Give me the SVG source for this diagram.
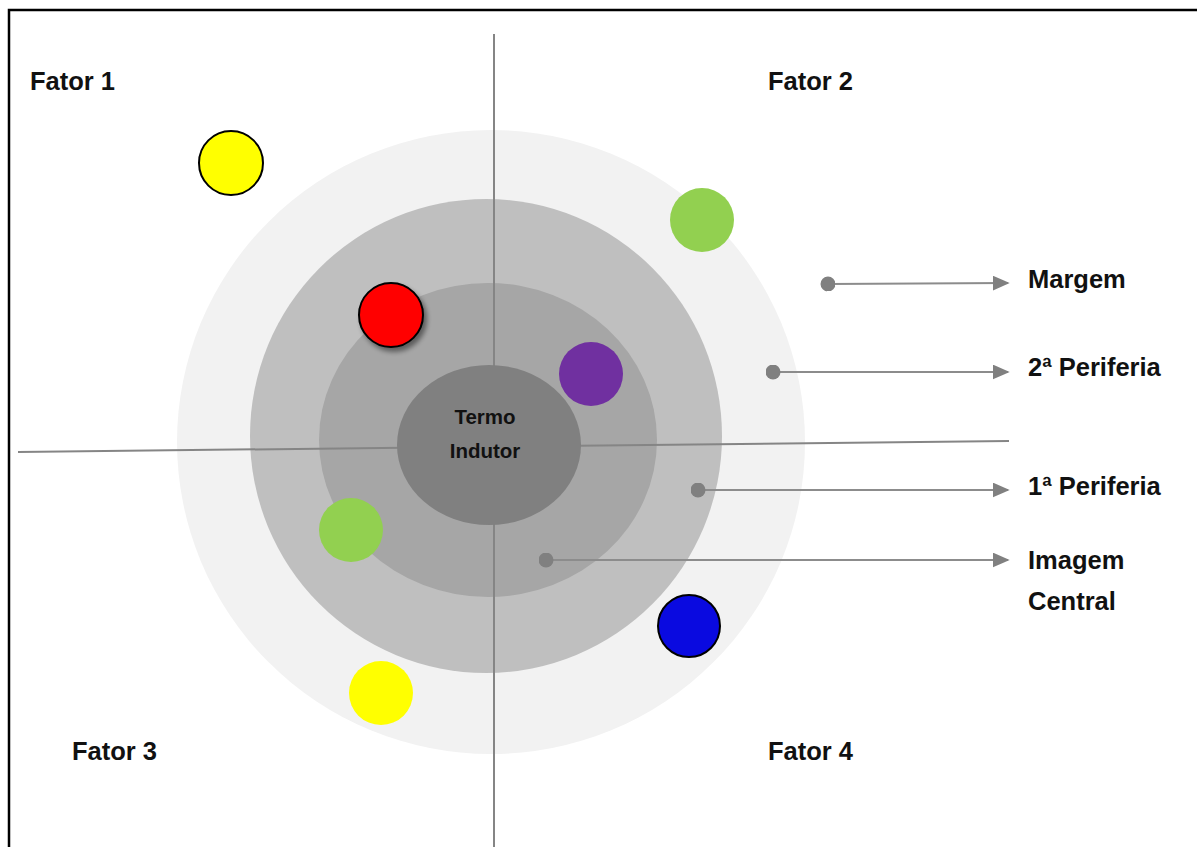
<svg xmlns="http://www.w3.org/2000/svg" width="1197" height="847" viewBox="0 0 1197 847">
  <defs>
    <style>
      .lbl { font-family: "Liberation Sans", Arial, sans-serif; font-weight: bold; font-size: 25.5px; fill: #111; }
      .core { font-family: "Liberation Sans", Arial, sans-serif; font-weight: bold; font-size: 20.5px; fill: #111; text-anchor: middle; }
      .axis { stroke: #858585; stroke-width: 2; fill: none; }
      .conn { stroke: #8c8c8c; stroke-width: 2; fill: none; marker-start: url(#dot); marker-end: url(#tri); }
      .ring { stroke: none; }
      .outlined { stroke: #000; stroke-width: 2; }
    </style>
    <marker id="tri" viewBox="0 0 10 10" refX="9" refY="5" markerWidth="17" markerHeight="15" markerUnits="userSpaceOnUse" orient="auto" preserveAspectRatio="none">
      <path d="M0,0 L10,5 L0,10 Z" fill="#808080"/>
    </marker>
    <marker id="dot" viewBox="0 0 10 10" refX="5" refY="5" markerWidth="15" markerHeight="15" markerUnits="userSpaceOnUse" orient="auto">
      <circle cx="5" cy="5" r="5" fill="#808080"/>
    </marker>
    <filter id="shadow" x="-30%" y="-30%" width="170%" height="170%">
      <feGaussianBlur in="SourceAlpha" stdDeviation="2.5"/>
      <feOffset dx="3" dy="4" result="b"/>
      <feComponentTransfer><feFuncA type="linear" slope="0.45"/></feComponentTransfer>
      <feMerge><feMergeNode/><feMergeNode in="SourceGraphic"/></feMerge>
    </filter>
  </defs>

  <rect width="1197" height="847" fill="#ffffff"/>
  <!-- frame (right and bottom edges run past the canvas) -->
  <rect x="9" y="10" width="1200" height="850" fill="none" stroke="#000" stroke-width="2.5"/>

  <!-- concentric zones -->
  <g id="margem">
    <ellipse class="ring" cx="491" cy="442" rx="314" ry="312" fill="#f2f2f2"/>
  </g>
  <g id="periferia2">
    <ellipse class="ring" cx="486" cy="436" rx="236" ry="237" fill="#bfbfbf"/>
  </g>
  <g id="periferia1">
    <ellipse class="ring" cx="488" cy="440" rx="169" ry="157" fill="#a6a6a6"/>
  </g>

  <!-- quadrant axes -->
  <g id="axes">
    <line class="axis" x1="494" y1="34" x2="494" y2="847"/>
    <line class="axis" x1="18" y1="452" x2="1009" y2="441"/>
  </g>

  <g id="termo-indutor">
    <ellipse cx="489" cy="445" rx="92" ry="80" fill="#808080"/>
    <text class="core" x="485" y="424">Termo</text>
    <text class="core" x="485" y="458">Indutor</text>
  </g>

  <!-- elements -->
  <g id="el-yellow-1"><circle class="outlined" cx="231" cy="163" r="32" fill="#ffff00"/></g>
  <g id="el-red"><circle class="outlined" cx="391" cy="315" r="32" fill="#ff0000" filter="url(#shadow)"/></g>
  <g id="el-green-1"><circle cx="702" cy="220" r="32" fill="#92d050"/></g>
  <g id="el-purple"><circle cx="591" cy="374" r="32" fill="#7030a0"/></g>
  <g id="el-green-2"><circle cx="351" cy="530" r="32" fill="#92d050"/></g>
  <g id="el-yellow-2"><circle cx="381" cy="693" r="32" fill="#ffff00"/></g>
  <g id="el-blue"><circle class="outlined" cx="689" cy="626" r="31" fill="#0a0ae0"/></g>

  <!-- zone pointers -->
  <g id="connectors">
    <line class="conn" x1="828" y1="284" x2="1008" y2="283"/>
    <line class="conn" x1="773" y1="372" x2="1008" y2="372"/>
    <line class="conn" x1="698" y1="490" x2="1008" y2="490"/>
    <line class="conn" x1="546" y1="560" x2="1008" y2="560"/>
  </g>

  <g id="legend">
    <text class="lbl" x="1028" y="288">Margem</text>
    <text class="lbl" x="1028" y="376">2ª Periferia</text>
    <text class="lbl" x="1028" y="495">1ª Periferia</text>
    <text class="lbl" x="1028" y="569">Imagem</text>
    <text class="lbl" x="1028" y="610">Central</text>
  </g>

  <g id="fatores">
    <text class="lbl" x="30" y="90">Fator 1</text>
    <text class="lbl" x="768" y="90">Fator 2</text>
    <text class="lbl" x="72" y="760">Fator 3</text>
    <text class="lbl" x="768" y="760">Fator 4</text>
  </g>
</svg>
